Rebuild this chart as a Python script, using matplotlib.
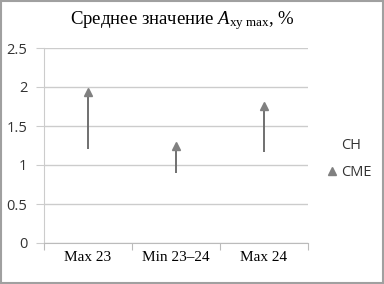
import numpy as np
from matplotlib import pyplot as plt
from matplotlib.patches import Rectangle

categories = ["Max 23", "Min 23\u201324", "Max 24"]
ch_values = [1.21, 0.90, 1.17]
cme_values = [1.94, 1.24, 1.76]
y_ticks = [0, 0.5, 1, 1.5, 2, 2.5]
y_labels = ["0", "0.5", "1", "1.5", "2", "2.5"]

plt.rcParams['mathtext.fontset'] = 'custom'
plt.rcParams['mathtext.rm'] = 'Liberation Serif'
plt.rcParams['mathtext.it'] = 'Liberation Serif:italic'

fig = plt.figure(figsize=(3.84, 2.84), dpi=100)
fig.patches.append(Rectangle((0.002, 0.004), 0.996, 0.992, transform=fig.transFigure,
                             fill=False, edgecolor='#a0a0a0', linewidth=1.5))
ax = fig.add_axes([44 / 384, 41 / 284, 264 / 384, 195 / 284])

x = np.arange(len(categories))
ax.vlines(x, ch_values, cme_values, color='#656565', linewidth=1.3, zorder=3)
ax.plot(x, ch_values, linestyle='none', marker='none', label='CH')
ax.plot(x, cme_values, linestyle='none', marker='^', markersize=6,
        color='#808080', label='CME', zorder=4)

ax.set_xlim(-0.5, 2.5)
ax.set_ylim(0, 2.5)
ax.set_yticks(y_ticks)
ax.set_yticklabels(y_labels, fontsize=10.5, color='#333333', family='Open Sans')
ax.yaxis.grid(True, color='#cccccc', linewidth=1)
ax.set_axisbelow(True)

ax.set_xticks([-0.5, 0.5, 1.5, 2.5])
ax.set_xticklabels([])
ax.set_xticks(x, minor=True)
ax.set_xticklabels(categories, minor=True, family='Liberation Serif', fontsize=11)
ax.tick_params(axis='x', which='minor', length=0, pad=6)
ax.tick_params(axis='x', which='major', length=5, color='#bbbbbb')
ax.tick_params(axis='y', length=6, color='#cccccc', pad=6)

for side in ['top', 'right']:
    ax.spines[side].set_visible(False)
ax.spines['left'].set_color('#cccccc')
ax.spines['bottom'].set_color('#bbbbbb')

fig.text(0.474, 0.928, r"Среднее значение $\mathit{A}_{\mathrm{xy\ max}}$, %",
         ha='center', va='center', family='Liberation Serif', fontsize=13.5)

leg = fig.legend(loc='center left', bbox_to_anchor=(314 / 384, 1 - 159 / 284), frameon=False,
                 handlelength=0.7, handletextpad=0.25, labelspacing=0.85,
                 prop={'family': 'Open Sans', 'size': 10.5})
for t in leg.get_texts():
    t.set_color('#333333')

fig.savefig('out.png', dpi=100)
